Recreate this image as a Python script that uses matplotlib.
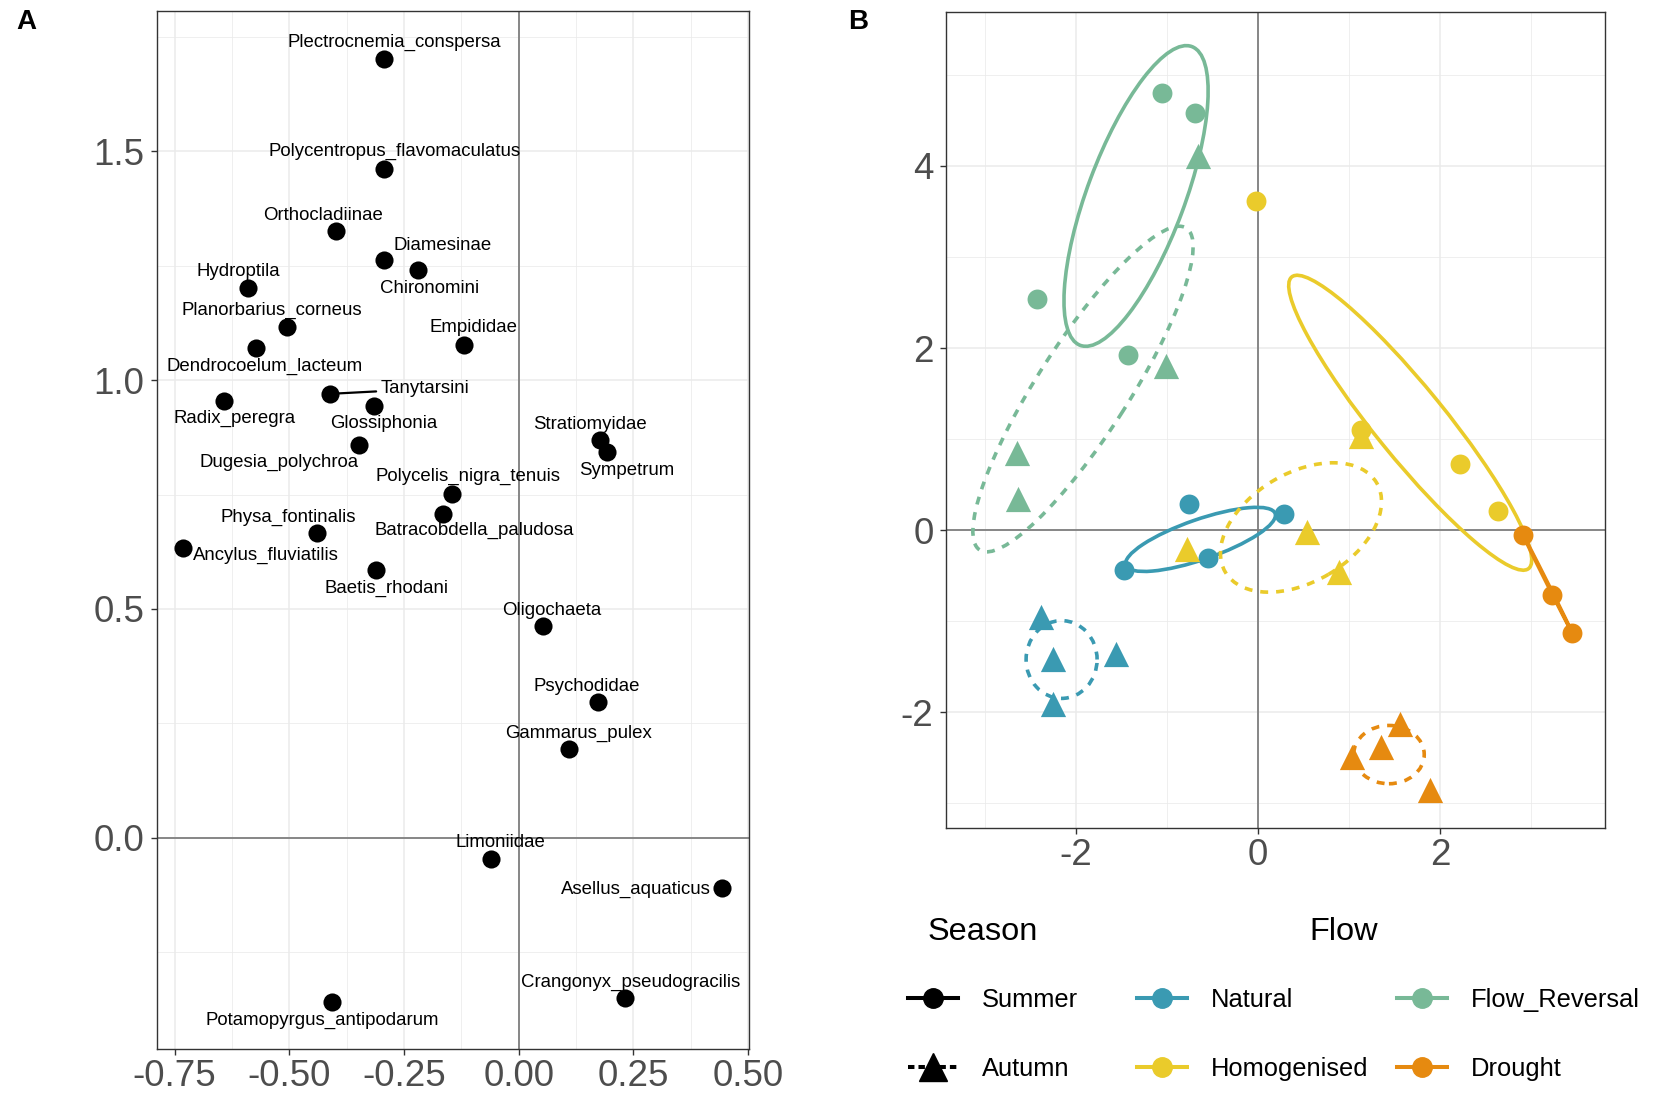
import numpy as np
import matplotlib
matplotlib.use('Agg')
import matplotlib.pyplot as plt
from matplotlib.patches import Ellipse
from matplotlib.lines import Line2D
from matplotlib.ticker import MultipleLocator, FixedLocator

plt.rcParams['font.family'] = ['Liberation Sans', 'DejaVu Sans']
plt.rcParams['axes.unicode_minus'] = False

# ---- Panel A: taxa scores ----
taxa = ['Plectrocnemia_conspersa', 'Polycentropus_flavomaculatus', 'Orthocladiinae',
        'Diamesinae', 'Chironomini', 'Hydroptila', 'Planorbarius_corneus',
        'Dendrocoelum_lacteum', 'Empididae', 'Tanytarsini', 'Glossiphonia',
        'Radix_peregra', 'Dugesia_polychroa', 'Stratiomyidae', 'Sympetrum',
        'Polycelis_nigra_tenuis', 'Batracobdella_paludosa', 'Physa_fontinalis',
        'Ancylus_fluviatilis', 'Baetis_rhodani', 'Oligochaeta', 'Psychodidae',
        'Gammarus_pulex', 'Limoniidae', 'Asellus_aquaticus',
        'Crangonyx_pseudogracilis', 'Potamopyrgus_antipodarum']
taxa_x = [-0.293, -0.293, -0.399, -0.293, -0.219, -0.589, -0.504, -0.573, -0.119,
          -0.412, -0.316, -0.642, -0.348, 0.178, 0.193, -0.145, -0.165, -0.439,
          -0.732, -0.311, 0.053, 0.172, 0.109, -0.060, 0.444, 0.231, -0.406]
taxa_y = [1.703, 1.462, 1.325, 1.262, 1.240, 1.202, 1.117, 1.070, 1.077,
          0.970, 0.944, 0.955, 0.859, 0.869, 0.842, 0.752, 0.708, 0.665,
          0.632, 0.584, 0.462, 0.296, 0.193, -0.046, -0.110, -0.351, -0.360]
# label placement relative to each point (pixels)
label_dx = [10, 10, -13, 58, 11, -10, -16, 9, 9, 95, 10, 10, -80, -10, 19,
            16, 31, -29, 83, 10, 9, -11, 10, 9, -86, 6, -10]
label_dy = [16, 17, 16, 15, -18, 16, 16, -18, 17, 5, -18, -18, -18, 16, -18,
            17, -17, 16, -7, -18, 16, 16, 16, 16, -1, 16, -18]
repel_line = ['Tanytarsini']

# ---- Panel B: site scores ----
site_flow = (['Natural'] * 8 + ['Homogenised'] * 8 + ['Flow_Reversal'] * 8
             + ['Drought'] * 7)
site_season = (['Summer'] * 4 + ['Autumn'] * 4) * 3 + ['Summer'] * 3 + ['Autumn'] * 4
site_x = [-0.755, 0.278, -0.557, -1.469, -2.385, -2.256, -1.564, -2.249,
          -0.027, 1.130, 2.220, 2.634, -0.777, 0.535, 0.883, 1.130,
          -1.058, -0.692, -2.432, -1.425, -0.656, -1.014, -2.652, -2.641,
          2.908, 3.227, 3.447, 1.560, 1.348, 1.030, 1.883]
site_y = [0.286, 0.183, -0.304, -0.432, -0.952, -1.410, -1.363, -1.905,
          3.610, 1.100, 0.725, 0.209, -0.201, -0.018, -0.458, 1.030,
          4.800, 4.580, 2.535, 1.923, 4.110, 1.806, 0.843, 0.348,
          -0.055, -0.714, -1.125, -2.125, -2.380, -2.490, -2.850]

# group ellipses: centre, semi-axes, rotation (deg)
ell_flow = ['Natural', 'Natural', 'Homogenised', 'Homogenised',
            'Flow_Reversal', 'Flow_Reversal', 'Drought', 'Drought']
ell_season = ['Summer', 'Autumn'] * 4
ell_cx = [-0.634, -2.160, 1.670, 0.470, -1.342, -1.925, 3.180, 1.436]
ell_cy = [-0.101, -1.420, 1.180, 0.030, 3.670, 1.550, -0.590, -2.464]
ell_a = [0.868, 0.427, 2.063, 0.965, 1.751, 2.100, 0.600, 0.388]
ell_b = [0.220, 0.390, 0.385, 0.597, 0.535, 0.500, 0.006, 0.320]
ell_angle = [19.1, 90.0, -50.9, 30.5, 69.5, 57.3, -63.3, 0.0]

flow_levels = ['Natural', 'Flow_Reversal', 'Homogenised', 'Drought']
flow_colors = {'Natural': '#3A9AB2', 'Flow_Reversal': '#78B997',
               'Homogenised': '#EACB2B', 'Drought': '#E68A10'}
season_marker = {'Summer': 'o', 'Autumn': '^'}
season_size = {'Summer': 205, 'Autumn': 330}
season_ls = {'Summer': '-', 'Autumn': (0, (2.2, 2.2))}

W, H = 1657, 1095
fig = plt.figure(figsize=(W / 100, H / 100), dpi=100)


def px_axes(l, t, r, b):
    return fig.add_axes([l / W, 1 - b / H, (r - l) / W, (b - t) / H])


def bw_theme(ax):
    ax.set_facecolor('white')
    for s in ax.spines.values():
        s.set_color('#333333')
        s.set_linewidth(1.0)
    ax.grid(True, which='major', color='#EBEBEB', lw=1.1, zorder=0)
    ax.grid(True, which='minor', color='#EBEBEB', lw=0.55, zorder=0)
    ax.set_axisbelow(True)
    ax.tick_params(which='major', length=4, width=1.0, color='#333333',
                   labelsize=26.5, labelcolor='#4D4D4D')
    ax.tick_params(which='minor', length=0)
    ax.tick_params(axis='x', pad=3)
    ax.tick_params(axis='y', pad=5)
    ax.axhline(0, color='#7F7F7F', lw=1.3, zorder=1)
    ax.axvline(0, color='#7F7F7F', lw=1.3, zorder=1)


# ---- Panel A ----
axA = px_axes(156.7, 11.4, 749, 1049)
bw_theme(axA)
axA.set_xlim(-0.789, 0.502)
axA.set_ylim(-0.462, 1.806)
axA.xaxis.set_major_locator(FixedLocator([-0.75, -0.5, -0.25, 0.0, 0.25, 0.5]))
axA.xaxis.set_minor_locator(MultipleLocator(0.125))
axA.yaxis.set_major_locator(FixedLocator([0.0, 0.5, 1.0, 1.5]))
axA.yaxis.set_minor_locator(MultipleLocator(0.25))
axA.set_xticklabels(['-0.75', '-0.50', '-0.25', '0.00', '0.25', '0.50'])
axA.set_yticklabels(['0.0', '0.5', '1.0', '1.5'])
axA.scatter(taxa_x, taxa_y, s=170, color='black', zorder=3, linewidths=0)
for name, x, y, dx, dy in zip(taxa, taxa_x, taxa_y, label_dx, label_dy):
    kw = {}
    if name in repel_line:
        kw['arrowprops'] = dict(arrowstyle='-', lw=1.6, color='black',
                                shrinkA=1, shrinkB=0)
    axA.annotate(name, (x, y), xytext=(dx, dy), textcoords='offset pixels',
                 ha='center', va='center', fontsize=13.4, color='black',
                 zorder=4, **kw)

# ---- Panel B ----
axB = px_axes(946, 12, 1605, 828)
bw_theme(axB)
axB.set_xlim(-3.43, 3.81)
axB.set_ylim(-3.27, 5.69)
axB.xaxis.set_major_locator(FixedLocator([-2, 0, 2]))
axB.xaxis.set_minor_locator(FixedLocator([-3, -1, 1, 3]))
axB.yaxis.set_major_locator(FixedLocator([-2, 0, 2, 4]))
axB.yaxis.set_minor_locator(FixedLocator([-3, -1, 1, 3, 5]))

for f, s, cx, cy, a, b, ang in zip(ell_flow, ell_season, ell_cx, ell_cy,
                                   ell_a, ell_b, ell_angle):
    axB.add_patch(Ellipse((cx, cy), 2 * a, 2 * b, angle=ang, fill=False,
                          edgecolor=flow_colors[f], lw=2.6,
                          linestyle=season_ls[s], zorder=2))

site_flow = np.array(site_flow)
site_season = np.array(site_season)
sx = np.array(site_x)
sy = np.array(site_y)
for f in flow_levels:
    for s in ['Summer', 'Autumn']:
        m = (site_flow == f) & (site_season == s)
        axB.scatter(sx[m], sy[m], s=season_size[s], marker=season_marker[s],
                    color=flow_colors[f], linewidths=0, zorder=3)

# ---- legends ----
leg_kw = dict(frameon=False, borderpad=0, borderaxespad=0, fontsize=18.4,
              handlelength=1.95, handletextpad=0.95, labelspacing=1.75,
              loc='upper left')
season_handles = [
    Line2D([], [], color='black', lw=2.9, marker='o', ms=14,
           linestyle='-'),
    Line2D([], [], color='black', lw=2.9, marker='^', ms=20,
           linestyle=(0, (1.6, 1.0))),
]
fig.legend(season_handles, ['Summer', 'Autumn'],
           bbox_to_anchor=(908 / W, 1 - 988 / H), **leg_kw)

flow_order = ['Natural', 'Homogenised', 'Flow_Reversal', 'Drought']
flow_handles = [Line2D([], [], color=flow_colors[f], lw=2.9, marker='o',
                       ms=14, linestyle='-') for f in flow_order]
fig.legend(flow_handles, flow_order, ncol=2, columnspacing=1.1,
           bbox_to_anchor=(1137 / W, 1 - 988 / H), **leg_kw)

fig.text(928 / W, 1 - 932 / H, 'Season', fontsize=23.4, ha='left', va='center')
fig.text(1309 / W, 1 - 932 / H, 'Flow', fontsize=23.4, ha='left', va='center')

fig.text(26 / W, 1 - 22 / H, 'A', fontsize=20, fontweight='bold',
         ha='center', va='center')
fig.text(858 / W, 1 - 22 / H, 'B', fontsize=20, fontweight='bold',
         ha='center', va='center')

fig.savefig('out.png', dpi=100, facecolor='white')
